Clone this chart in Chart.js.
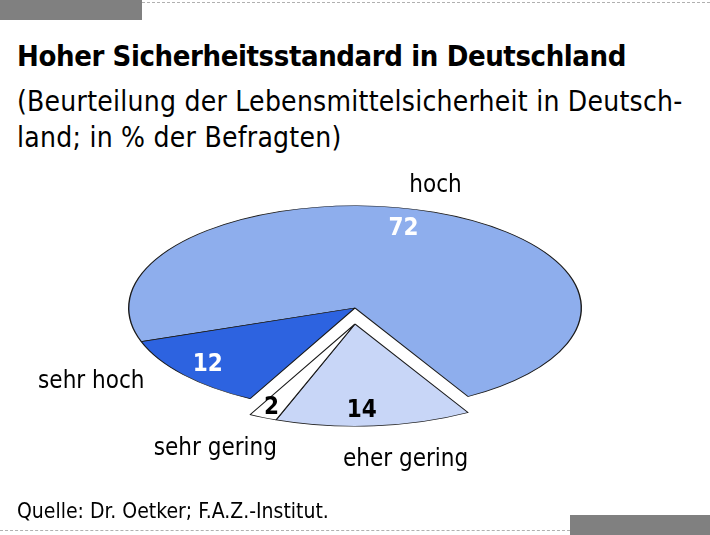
<!DOCTYPE html>
<html>
<head>
<meta charset="utf-8">
<script src="https://cdn.jsdelivr.net/npm/chart.js@4.4.1/dist/chart.umd.min.js"></script>
<style>
html, body { margin: 0; padding: 0; background: #fff; width: 710px; height: 535px; overflow: hidden; }
body { position: relative; font-family: "DejaVu Sans Condensed", sans-serif; color: #000; }
.bar { position: absolute; background: #808080; }
.dash { position: absolute; border-top: 1px dashed #b0b0b0; height: 0; }
#title { position: absolute; left: 17px; top: 39px; font-size: 29px; font-weight: bold; letter-spacing: -0.4px; white-space: nowrap; }
#sub { position: absolute; left: 17px; top: 84px; font-size: 28px; line-height: 36px; letter-spacing: 0.25px; white-space: nowrap; }
#source { position: absolute; left: 17px; top: 499px; font-size: 21px; white-space: nowrap; }
#wrap { position: absolute; left: 0; top: 0; width: 710px; height: 535px; }
</style>
</head>
<body>
<div class="bar" style="left:0;top:0;width:142px;height:20px"></div>
<div class="dash" style="left:142px;top:2px;width:568px"></div>
<div id="title">Hoher Sicherheitsstandard in Deutschland</div>
<div id="sub">(Beurteilung der Lebensmittelsicherheit in Deutsch-<br>land; in % der Befragten)</div>
<div id="wrap"><canvas id="pieChart"></canvas></div>
<div id="source">Quelle: Dr. Oetker; F.A.Z.-Institut.</div>
<div class="dash" style="left:0;top:530px;width:570px"></div>
<div class="bar" style="left:570px;top:515px;width:140px;height:20px"></div>

<script>
// Beurteilung der Lebensmittelsicherheit, in %
const categories = ["hoch", "eher gering", "sehr gering", "sehr hoch"];
const values = [72, 14, 2, 12];
const exploded = [false, true, true, false];

const colors = ["#8eaeed", "#c8d6f7", "#ffffff", "#2d63e0"];
const valueColors = ["#ffffff", "#000000", "#000000", "#ffffff"];
const valueNudge = [[-17, 0], [-9, 2], [-7, 6], [-5, 1]];
const labelNudge = [[-22, 2], [26, 3], [-20, 3], [-41, -13]];

const squash = 0.452;   // flatten the pie to an ellipse
const explodePx = 16;

const ellipsePie = {
    id: "ellipsePie",
    afterDatasetUpdate(chart, args) {
        args.meta.data.forEach(function (arc, i) {
            if (exploded[i]) arc.y += explodePx / squash;
        });
    },
    beforeDatasetDraw(chart) {
        const ctx = chart.ctx;
        const a = chart.chartArea;
        const cy = (a.top + a.bottom) / 2;
        ctx.save();
        ctx.translate(0, cy);
        ctx.scale(1, squash);
        ctx.translate(0, -cy);
    },
    afterDatasetDraw(chart) {
        chart.ctx.restore();
    },
    afterDraw(chart) {
        const ctx = chart.ctx;
        const a = chart.chartArea;
        const cy = (a.top + a.bottom) / 2;
        const arcs = chart.getDatasetMeta(0).data;
        ctx.save();
        ctx.textAlign = "center";
        ctx.textBaseline = "middle";
        arcs.forEach(function (arc, i) {
            const mid = (arc.startAngle + arc.endAngle) / 2;
            const r = arc.outerRadius;
            const pos = function (f) {
                return [arc.x + Math.cos(mid) * r * f,
                        cy + (arc.y + Math.sin(mid) * r * f - cy) * squash];
            };
            const v = pos(0.83);
            ctx.fillStyle = valueColors[i];
            ctx.font = "bold 24px 'DejaVu Sans Condensed', sans-serif";
            ctx.fillText(values[i], v[0] + valueNudge[i][0], v[1] + valueNudge[i][1]);
            const l = pos(1.3);
            ctx.fillStyle = "#000";
            ctx.font = "24px 'DejaVu Sans Condensed', sans-serif";
            ctx.fillText(categories[i], l[0] + labelNudge[i][0], l[1] + labelNudge[i][1]);
        });
        ctx.restore();
    }
};

new Chart(document.getElementById("pieChart"), {
    type: "pie",
    data: {
        labels: categories,
        datasets: [
            {
                data: values,
                backgroundColor: colors,
                borderColor: "#1a1a1a",
                borderWidth: 1.4,
                clip: false
            }
        ]
    },
    options: {
        responsive: true,
        maintainAspectRatio: false,
        animation: false,
        events: [],
        rotation: 250.8,
        layout: { padding: { top: 81, bottom: 0, left: 0, right: 0 } },
        plugins: {
            legend: { display: false },
            tooltip: { enabled: false }
        }
    },
    plugins: [ellipsePie]
});
</script>
</body>
</html>
